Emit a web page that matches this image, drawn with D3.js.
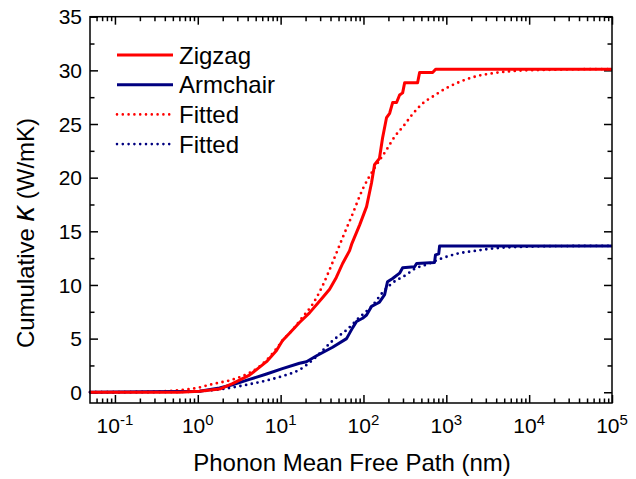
<!DOCTYPE html>
<html>
<head>
<meta charset="utf-8">
<script src="https://cdn.jsdelivr.net/npm/d3@7"></script>
<style>
  body { margin: 0; background: #fff; }
  svg text { font-family: "Liberation Sans", Arial, sans-serif; fill: #000; }
</style>
</head>
<body>
<svg id="chart" width="636" height="479"></svg>
<script>
// values: [mean free path (nm), cumulative kappa (W/mK)]
const zigzag = [
  [0.05, 0], [0.6, 0], [1.05, 0.1], [1.83, 0.3], [2.62, 0.8], [4.21, 1.6], [6.76, 2.85],
  [8.92, 3.9], [10.5, 4.8], [12.8, 5.5], [16.9, 6.5], [22.3, 7.4], [32, 8.8], [39, 9.6],
  [47, 10.7], [56, 12.0], [68, 13.2], [72, 13.8], [90, 15.6], [109, 17.3], [125, 19.5],
  [136, 21.2], [156, 21.8], [170, 23.7], [190, 25.6], [207, 26.0], [225, 27.0], [251, 27.0],
  [273, 27.7], [297, 27.9], [314, 28.85], [450, 28.85], [476, 29.8], [684, 29.8],
  [743, 30.1], [1e5, 30.1]
];
const zigzagFit = [
  [0.05, 0], [0.2, 0.03], [0.44, 0.12], [0.7, 0.25], [1.05, 0.45], [1.39, 0.7], [1.83, 0.9],
  [2.41, 1.1], [3.19, 1.4], [4.21, 1.8], [5.56, 2.4], [6.76, 3.0], [7.98, 3.6], [9.18, 4.2],
  [10.5, 4.8], [13.9, 5.8], [18.4, 7.0], [24.3, 8.2], [32, 9.9], [42.4, 12.1], [56, 14.4],
  [73.8, 16.6], [97.5, 18.9], [136, 20.9], [190, 22.6], [237, 23.8], [304, 24.8], [390, 25.9],
  [515, 26.9], [700, 27.6], [977, 28.3], [1330, 28.8], [1806, 29.2], [2454, 29.5],
  [3427, 29.7], [6870, 29.95], [17200, 30.05], [40000, 30.1], [1e5, 30.12]
];
const armchair = [
  [0.05, 0], [1.05, 0.1], [1.83, 0.4], [2.62, 0.7], [4.21, 1.2], [6.76, 1.7], [10.5, 2.2],
  [16.9, 2.7], [20.5, 2.85], [27.2, 3.4], [42.4, 4.2], [62.5, 5.0], [73.8, 6.0], [82.5, 6.6],
  [97.5, 6.9], [109, 7.2], [125, 8.0], [148, 8.3], [156, 8.4], [180, 9.1], [195, 10.3],
  [225, 10.6], [273, 11.1], [297, 11.6], [414, 11.7], [438, 12.0], [721, 12.1], [740, 12.8],
  [810, 12.9], [830, 13.64], [1e5, 13.64]
];
const armchairFit = [
  [0.05, 0], [0.5, 0.02], [1.05, 0.1], [2.0, 0.3], [2.62, 0.45], [4.21, 0.75], [6.76, 1.1],
  [10.5, 1.5], [16.9, 2.1], [24.3, 3.0], [29.5, 3.6], [42.4, 4.8], [62.5, 5.8], [90, 7.0],
  [129, 8.1], [166, 9.2], [225, 10.2], [322, 10.9], [414, 11.5], [578, 11.9], [830, 12.4],
  [1330, 12.9], [2320, 13.2], [3620, 13.4], [8000, 13.55], [20000, 13.62], [1e5, 13.64]
];

const xMajor = [0.1, 1, 10, 100, 1000, 10000, 100000];
const xExponents = ["-1", "0", "1", "2", "3", "4", "5"];
const yMajor = [0, 5, 10, 15, 20, 25, 30, 35];
const yMinor = [2.5, 7.5, 12.5, 17.5, 22.5, 27.5, 32.5];

const legendItems = [
  { label: "Zigzag", color: "#ff0000", dotted: false },
  { label: "Armchair", color: "#000080", dotted: false },
  { label: "Fitted", color: "#ff0000", dotted: true },
  { label: "Fitted", color: "#000080", dotted: true }
];

const margin = { left: 90, right: 24, top: 16.7, bottom: 76 };
const width = 636 - margin.left - margin.right;
const height = 479 - margin.top - margin.bottom;

const svg = d3.select("#chart");
const g = svg.append("g").attr("transform", `translate(${margin.left},${margin.top})`);

const x = d3.scaleLog().domain([0.05, 1e5]).range([0, width]);
const y = d3.scaleLinear().domain([-1, 35]).range([height, 0]);

// minor log ticks 2..9 of each decade inside the domain
const xMinor = [];
for (let e = -2; e < 5; e++) {
  for (let m = 2; m <= 9; m++) {
    const v = m * Math.pow(10, e);
    if (v > 0.05 && v < 1e5) xMinor.push(v);
  }
}

function addAxis(axis, transform) {
  const a = g.append("g").attr("transform", transform).call(axis);
  a.select(".domain").remove();
  a.selectAll("line").attr("stroke", "#000").attr("stroke-width", 1.5);
  a.selectAll("text").remove();
}

// ticks point inward on all four sides
addAxis(d3.axisBottom(x).tickValues(xMajor).tickSize(-8), `translate(0,${height})`);
addAxis(d3.axisBottom(x).tickValues(xMinor).tickSize(-4.5), `translate(0,${height})`);
addAxis(d3.axisTop(x).tickValues(xMajor).tickSize(-8), "translate(0,0)");
addAxis(d3.axisTop(x).tickValues(xMinor).tickSize(-4.5), "translate(0,0)");
addAxis(d3.axisLeft(y).tickValues(yMajor).tickSize(-8), "translate(0,0)");
addAxis(d3.axisLeft(y).tickValues(yMinor).tickSize(-4.5), "translate(0,0)");
addAxis(d3.axisRight(y).tickValues(yMajor).tickSize(-8), `translate(${width},0)`);
addAxis(d3.axisRight(y).tickValues(yMinor).tickSize(-4.5), `translate(${width},0)`);

// x tick labels as 10^n
const xl = g.append("g").selectAll("text").data(xMajor).join("text")
  .attr("x", d => x(d))
  .attr("y", height + 30)
  .attr("text-anchor", "middle")
  .attr("font-size", 21);
xl.append("tspan").text("10");
xl.append("tspan").attr("dy", -8).attr("font-size", 15).text((d, i) => xExponents[i]);

g.append("g").selectAll("text").data(yMajor).join("text")
  .attr("x", -8)
  .attr("y", d => y(d))
  .attr("dy", "0.36em")
  .attr("text-anchor", "end")
  .attr("font-size", 21)
  .text(d => d);

// curves
const line = d3.line().x(d => x(d[0])).y(d => y(d[1]));
const smooth = d3.line().x(d => x(d[0])).y(d => y(d[1])).curve(d3.curveMonotoneX);

const plot = g.append("g");
function drawFit(data, color) {
  plot.append("path").datum(data)
    .attr("d", smooth)
    .attr("fill", "none")
    .attr("stroke", color)
    .attr("stroke-width", 2.8)
    .attr("stroke-linecap", "round")
    .attr("stroke-dasharray", "0 5.8");
}
function drawSolid(data, color) {
  plot.append("path").datum(data)
    .attr("d", line)
    .attr("fill", "none")
    .attr("stroke", color)
    .attr("stroke-width", 3)
    .attr("stroke-linejoin", "round");
}
drawFit(zigzagFit, "#ff0000");
drawFit(armchairFit, "#000080");
drawSolid(armchair, "#000080");
drawSolid(zigzag, "#ff0000");

// frame
g.append("rect")
  .attr("width", width)
  .attr("height", height)
  .attr("fill", "none")
  .attr("stroke", "#000")
  .attr("stroke-width", 1.5);

// legend
const legend = g.append("g").attr("transform", "translate(27,38.3)");
const rows = legend.selectAll("g").data(legendItems).join("g")
  .attr("transform", (d, i) => `translate(0,${i * 29.7})`);
rows.append("line")
  .attr("x1", 0).attr("x2", 56)
  .attr("stroke", d => d.color)
  .attr("stroke-width", d => d.dotted ? 2.6 : 3)
  .attr("stroke-linecap", d => d.dotted ? "round" : "butt")
  .attr("stroke-dasharray", d => d.dotted ? "0 5.8" : null);
rows.append("text")
  .attr("x", 62)
  .attr("dy", "0.36em")
  .attr("font-size", 24)
  .text(d => d.label);

// axis titles
svg.append("text")
  .attr("x", 352)
  .attr("y", 471)
  .attr("text-anchor", "middle")
  .attr("font-size", 24)
  .text("Phonon Mean Free Path (nm)");

const yt = svg.append("text")
  .attr("transform", "translate(34,233) rotate(-90)")
  .attr("text-anchor", "middle")
  .attr("font-size", 24);
yt.append("tspan").text("Cumulative ");
yt.append("tspan").attr("font-style", "italic").attr("font-size", 31).text("κ");
yt.append("tspan").text(" (W/mK)");
</script>
</body>
</html>
